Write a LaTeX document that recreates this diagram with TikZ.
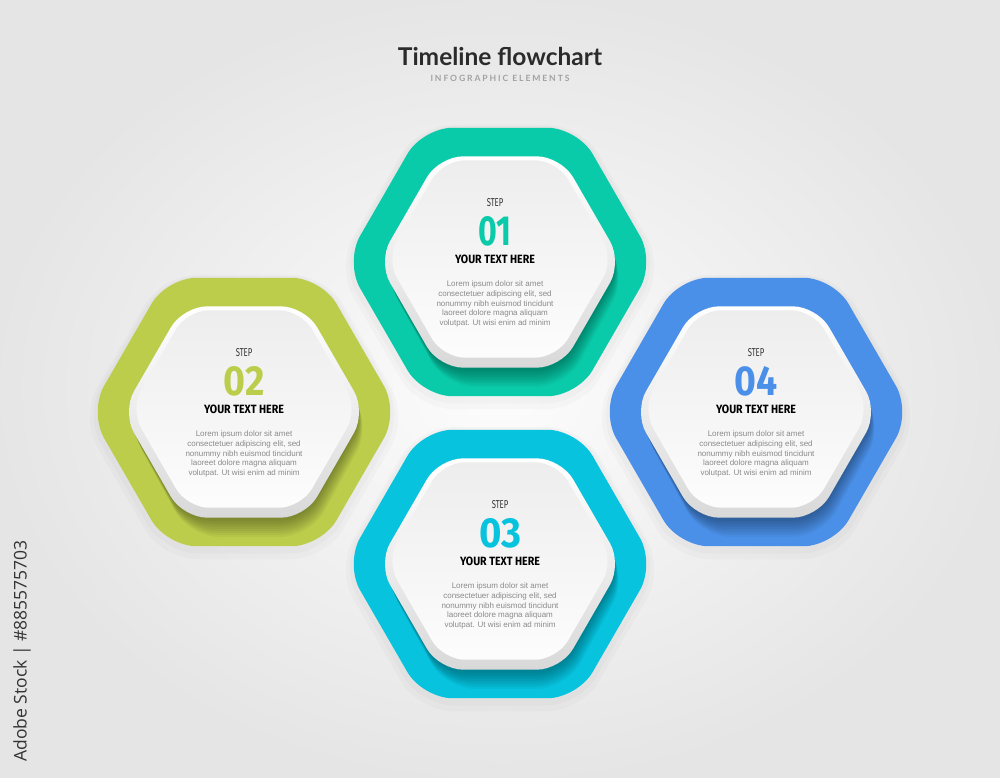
\documentclass[tikz,border=0pt]{standalone}
\usepackage{fontspec}
\setmainfont{Liberation Sans}
\newfontfamily\titlefont{Lato}
\newfontfamily\dinfont{Fira Sans}
\newfontfamily\markfont{Open Sans}

\definecolor{cOne}{HTML}{0ACBA9}
\definecolor{cTwo}{HTML}{BCCD4B}
\definecolor{cThree}{HTML}{07C3DE}
\definecolor{cFour}{HTML}{4A90E8}
\definecolor{titlegray}{HTML}{2B2B2B}
\definecolor{subgray}{HTML}{A2A2A2}
\definecolor{bodygray}{HTML}{8A8A8A}

% flat-top hexagon path: centre x, centre y, circumradius
\newcommand\hexpath[3]{({#1},{#2-0.866*#3}) -- ({#1+0.5*#3},{#2-0.866*#3}) -- ({#1+#3},{#2}) -- ({#1+0.5*#3},{#2+0.866*#3}) -- ({#1-0.5*#3},{#2+0.866*#3}) -- ({#1-#3},{#2}) -- ({#1-0.5*#3},{#2-0.866*#3}) -- cycle}

\tikzset{
  halo/.style={fill=black, opacity=0.02, rounded corners=34pt},
  outerhex/.style={rounded corners=30pt},
  tileshadow/.style={fill=black, opacity=0.04},
  tilehex/.style={rounded corners=24pt, top color=white, bottom color=black!15},
  facehex/.style={rounded corners=22pt, top color=black!7, bottom color=black!1},
  steplbl/.style={inner sep=0pt, anchor=base, text=black!80},
  numlbl/.style={inner sep=0pt, anchor=base},
  headlbl/.style={inner sep=0pt, anchor=base, text=black},
  bodytxt/.style={inner sep=0pt, anchor=north, align=center, text=bodygray, font=\fontsize{8}{9.8}\selectfont},
}

% #1 id, #2 cx, #3 cy, #4 colour, #5 text dx, #6 number, #7 number width
\newcommand\stepblock[7]{%
  \fill[halo] \hexpath{#2}{#3+5}{164};
  \fill[halo] \hexpath{#2}{#3+3}{160};
  \fill[outerhex, fill=#4] \hexpath{#2}{#3}{155};
  \foreach \k in {1,...,9}{%
    \fill[tileshadow, rounded corners=24pt+0.6pt*\k] \hexpath{#2}{#3+2+1.35*\k}{121+0.65*\k};
  }
  \shade[tilehex] \hexpath{#2}{#3}{122};
  \shade[facehex] \hexpath{#2}{#3-3}{114};
  \node[steplbl] (step#1) at ({#2+(#5)},{#3-56}) {\resizebox{16.5pt}{8pt}{\dinfont STEP}};
  \node[numlbl, text=#4] (num#1) at ({#2+(#5)},{#3-17}) {\resizebox{#7pt}{29pt}{\dinfont\bfseries #6}};
  \node[headlbl] (head#1) at ({#2+(#5)},{#3+1}) {\resizebox{80pt}{8.5pt}{\dinfont\bfseries YOUR TEXT HERE}};
  \node[bodytxt] (body#1) at ({#2+(#5)},{#3+18.5}) {Lorem ipsum dolor sit amet\\consectetuer adipiscing elit, sed\\nonummy nibh euismod tincidunt\\laoreet dolore magna aliquam\\volutpat. Ut wisi enim ad minim};
}

\begin{document}
\begin{tikzpicture}[x=1pt, y=-1pt]
  \useasboundingbox (0,0) rectangle (1000,778);
  \shade[inner color=black!1, outer color=black!10] (0,0) rectangle (1000,778);

  \node[inner sep=0pt, anchor=base, text=titlegray] (title) at (500,66)
    {\titlefont\bfseries\fontsize{24.5}{24.5}\selectfont Timeline flowchart};
  \node[inner sep=0pt, anchor=base, text=subgray] (subtitle) at (500,81.5)
    {\titlefont\bfseries\addfontfeature{LetterSpace=22}\fontsize{8.6}{8.6}\selectfont INFOGRAPHIC ELEMENTS};

  \stepblock{1}{500}{262}{cOne}{-5}{01}{33}
  \stepblock{2}{244}{412}{cTwo}{0}{02}{41}
  \stepblock{3}{500}{564}{cThree}{0}{03}{42}
  \stepblock{4}{756}{412}{cFour}{0}{04}{43}

  \node[inner sep=0pt, rotate=90, text=black!80] (mark) at (22,651)
    {\markfont\fontsize{17.5}{17.5}\selectfont Adobe Stock | \#885575703};
\end{tikzpicture}
\end{document}
